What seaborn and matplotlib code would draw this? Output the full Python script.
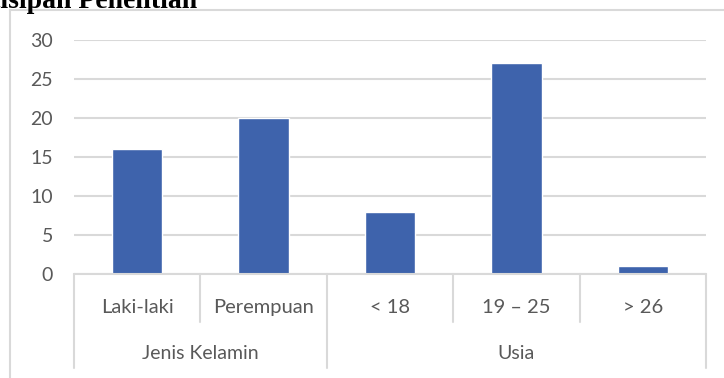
import matplotlib
matplotlib.use("Agg")
import matplotlib.pyplot as plt
import seaborn as sns
import pandas as pd
from matplotlib.lines import Line2D

# data
categories = ["Laki-laki", "Perempuan", "< 18", "19 – 25", "> 26"]
counts = [16, 20, 8, 27, 1]
groups = ["Jenis Kelamin", "Jenis Kelamin", "Usia", "Usia", "Usia"]
y_ticks = [0, 5, 10, 15, 20, 25, 30]

BAR = "#3E63AC"
GRID = "#D9D9D9"
TXT = "#595959"

sns.set_theme(style="white")
plt.rcParams["font.family"] = ["Lato", "DejaVu Sans"]

df = pd.DataFrame({"kategori": categories, "jumlah": counts, "grup": groups})

W, H = 724, 378
fig = plt.figure(figsize=(W / 100, H / 100), dpi=100)
ax = fig.add_axes([74 / W, 1 - 274 / H, (706 - 74) / W, (274 - 40) / H])

sns.barplot(data=df, x="kategori", y="jumlah", order=categories, color=BAR,
            width=0.4, saturation=1, ax=ax)

ax.set_xlim(-0.5, len(categories) - 0.5)
ax.set_ylim(0, 30)
ax.set_yticks(y_ticks)
ax.set_yticklabels([str(t) for t in y_ticks], color=TXT, fontsize=14)
ax.tick_params(axis="y", length=0, pad=15)
ax.set_xticks([])
ax.set_xlabel("")
ax.set_ylabel("")
for s in ax.spines.values():
    s.set_visible(False)
ax.yaxis.grid(True, color=GRID, linewidth=1.5)
ax.set_axisbelow(True)

# multi-level category axis drawn under the plot
trans = ax.get_xaxis_transform()
ax.plot([-0.5, len(categories) - 0.5], [0, 0], color=GRID, lw=1.5,
        transform=trans, clip_on=False)
tier1_y, tier2_y = -0.145, -0.34
sep_short, sep_long = -0.205, -0.402
for i, c in enumerate(categories):
    ax.text(i, tier1_y, c, ha="center", va="center", color=TXT, fontsize=14.5,
            transform=trans)
for i in range(len(categories) + 1):
    edge = i == 0 or i == len(categories) or groups[i - 1] != groups[i]
    ax.plot([i - 0.5, i - 0.5], [0, sep_long if edge else sep_short],
            color=GRID, lw=1.5, transform=trans, clip_on=False)
start = 0
for i in range(1, len(groups) + 1):
    if i == len(groups) or groups[i] != groups[start]:
        ax.text((start + i - 1) / 2, tier2_y, groups[start], ha="center",
                va="center", color=TXT, fontsize=14, transform=trans)
        start = i

# outer chart frame (cut off at right and bottom)
fig.add_artist(Line2D([10 / W, 10 / W], [0, 1 - 10 / H], color=GRID, lw=1.5))
fig.add_artist(Line2D([10 / W, 1], [1 - 10 / H, 1 - 10 / H], color=GRID, lw=1.5))

# title, cropped at the top edge like in the source screenshot
fig.text(197 / W, 1 - 8 / H, "Partisipan Penelitian", ha="right", va="baseline",
         fontsize=20, fontweight="bold", family=["Liberation Serif", "DejaVu Serif"],
         color="black")

fig.savefig("out.png", dpi=100)
plt.close(fig)
